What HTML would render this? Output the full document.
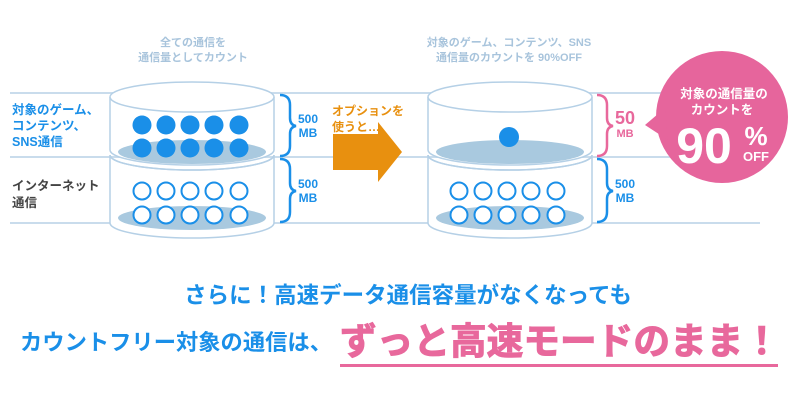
<!DOCTYPE html>
<html><head><meta charset="utf-8"><style>
html,body{margin:0;padding:0;background:#fff;width:800px;height:400px;overflow:hidden}
svg text{font-family:"Liberation Sans","Noto Sans CJK JP",sans-serif;font-weight:bold}
</style></head><body>
<svg width="800" height="400" viewBox="0 0 800 400" xmlns="http://www.w3.org/2000/svg">
<g stroke="#c9dcec" stroke-width="2">
<line x1="10" y1="93" x2="760" y2="93"/>
<line x1="10" y1="157" x2="760" y2="157"/>
<line x1="10" y1="223" x2="760" y2="223"/>
</g>
<g fill="#a8c4dc" font-size="11" text-anchor="middle">
<text x="193" y="46">全ての通信を</text>
<text x="193" y="61">通信量としてカウント</text>
<text x="509" y="46">対象のゲーム、コンテンツ、SNS</text>
<text x="509" y="61">通信量のカウントを 90%OFF</text>
</g>
<g id="c1">
<path d="M110 97 V150 A82 15 0 0 0 274 150 V97" fill="#fff" stroke="#b5d0e6" stroke-width="1.5"/>
<path d="M110 155 V223 A82 15 0 0 0 274 223 V155 A82 15 0 0 1 110 155" fill="#fff" stroke="#b5d0e6" stroke-width="1.5"/>
<path d="M110 155 A82 15 0 0 0 274 155" fill="none" stroke="#b5d0e6" stroke-width="1.5"/>
<ellipse cx="192" cy="97" rx="82" ry="15" fill="#fff" stroke="#b5d0e6" stroke-width="1.5"/>
<ellipse cx="192" cy="152" rx="74" ry="12" fill="#a9c9df"/>
<ellipse cx="192" cy="218" rx="74" ry="12" fill="#a9c9df"/>
</g>
<use href="#c1" x="318"/>
<g fill="#1a8fe8">
<circle cx="142" cy="125" r="9.5"/><circle cx="166" cy="125" r="9.5"/><circle cx="190" cy="125" r="9.5"/><circle cx="214" cy="125" r="9.5"/><circle cx="239" cy="125" r="9.5"/>
<circle cx="142" cy="148" r="9.5"/><circle cx="166" cy="148" r="9.5"/><circle cx="190" cy="148" r="9.5"/><circle cx="214" cy="148" r="9.5"/><circle cx="239" cy="148" r="9.5"/>
<circle cx="509" cy="137" r="10"/>
</g>
<g id="hol" fill="#fff" stroke="#1a8fe8" stroke-width="2">
<circle cx="142" cy="191" r="8.5"/><circle cx="166" cy="191" r="8.5"/><circle cx="190" cy="191" r="8.5"/><circle cx="214" cy="191" r="8.5"/><circle cx="239" cy="191" r="8.5"/>
<circle cx="142" cy="215" r="8.5"/><circle cx="166" cy="215" r="8.5"/><circle cx="190" cy="215" r="8.5"/><circle cx="214" cy="215" r="8.5"/><circle cx="239" cy="215" r="8.5"/>
</g>
<use href="#hol" x="317"/>
<g fill="none" stroke-width="2.5">
<path d="M280 95 Q290 95 290 105 V118 Q290 125 296 126 Q290 127 290 134 V146 Q290 156 280 156" stroke="#1a8fe8"/>
<path d="M280 159 Q290 159 290 169 V183 Q290 190 296 191 Q290 192 290 199 V212 Q290 222 280 222" stroke="#1a8fe8"/>
<path d="M597 95 Q607 95 607 105 V118 Q607 125 613 126 Q607 127 607 134 V146 Q607 156 597 156" stroke="#e8689c"/>
<path d="M597 159 Q607 159 607 169 V183 Q607 190 613 191 Q607 192 607 199 V212 Q607 222 597 222" stroke="#1a8fe8"/>
</g>
<g fill="#1a8fe8" font-size="12" text-anchor="middle">
<text x="308" y="123">500</text><text x="308" y="137">MB</text>
<text x="308" y="188">500</text><text x="308" y="202">MB</text>
<text x="625" y="188">500</text><text x="625" y="202">MB</text>
</g>
<g fill="#e8689c" text-anchor="middle">
<text x="625" y="124" font-size="18">50</text><text x="625" y="137" font-size="11">MB</text>
</g>
<g font-size="12.5">
<text x="12" y="114" fill="#1a8fe8">対象のゲーム、</text>
<text x="12" y="130" fill="#1a8fe8">コンテンツ、</text>
<text x="12" y="146" fill="#1a8fe8">SNS通信</text>
<text x="12" y="190" fill="#444">インターネット</text>
<text x="12" y="207" fill="#444">通信</text>
</g>
<g fill="#e8900f">
<text x="332" y="115" font-size="12">オプションを</text>
<text x="332" y="131" font-size="12">使うと…</text>
<path d="M333 134 H378 V122 L402 152 L378 182 V170 H333 Z"/>
</g>
<g fill="#e6659c">
<circle cx="722" cy="117" r="66"/>
<path d="M645 125 L665 108 L668 140 Z"/>
</g>
<g fill="#fff" text-anchor="middle">
<text x="724" y="98" font-size="12.5">対象の通信量の</text>
<text x="722" y="114" font-size="12.5">カウントを</text>
<text x="704" y="163" font-size="50">90</text>
<text x="756" y="145" font-size="26">%</text>
<text x="756" y="161" font-size="13">OFF</text>
</g>
<text x="408" y="303" font-size="22.5" fill="#1a8fe8" text-anchor="middle">さらに！高速データ通信容量がなくなっても</text>
<text x="20" y="350" font-size="22" fill="#1a8fe8" textLength="312" lengthAdjust="spacingAndGlyphs">カウントフリー対象の通信は、</text>
<text x="340" y="354" font-size="37" fill="#e8689c" stroke="#e8689c" stroke-width="1" textLength="440" lengthAdjust="spacingAndGlyphs">ずっと高速モードのまま！</text>
<rect x="340" y="364" width="438" height="3" fill="#e8689c"/>
</svg>
</body></html>
